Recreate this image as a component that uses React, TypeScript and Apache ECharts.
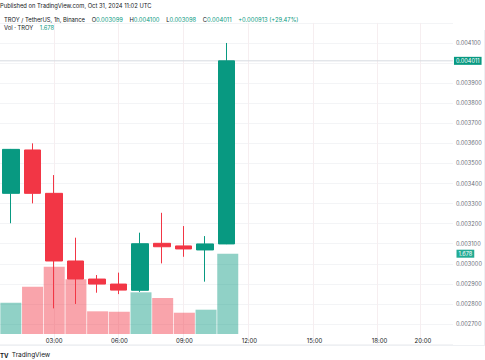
import React, { useEffect, useRef } from "react";
import * as echarts from "echarts";

const hours = ["01:00","02:00","03:00","04:00","05:00","06:00","07:00","08:00","09:00","10:00","11:00","12:00","13:00","14:00","15:00","16:00","17:00","18:00","19:00","20:00","21:00"];
const tickLabels = ["03:00","06:00","09:00","12:00","15:00","18:00","20:00"];
const openV = [0.003351,0.003567,0.003351,0.003014,0.002924,0.002899,0.002868,0.003102,0.003089,0.003069,0.003099];
const closeV = [0.003570,0.003351,0.003014,0.002924,0.002899,0.002869,0.003100,0.003085,0.003074,0.003099,0.004011];
const lowV = [0.003202,0.003301,0.002778,0.002800,0.002856,0.002849,0.002860,0.003002,0.003035,0.002911,0.003098];
const highV = [0.003572,0.003600,0.003442,0.003130,0.002944,0.002956,0.003155,0.003254,0.003188,0.003138,0.004100];
const volumeM = [0.654,0.989,1.406,1.143,0.474,0.466,0.871,0.752,0.445,0.508,1.678];
const hiddenPriceTicks = [0.004];
const lastPrice = 0.004011;
const lastVolume = 1.678;

const UP = "#089981";
const DOWN = "#f23645";
const UP_VOL = "rgba(8,153,129,0.45)";
const DOWN_VOL = "rgba(242,54,69,0.45)";
const FONT = "Inter, 'Noto Sans', sans-serif";

export default function App() {
  const ref = useRef<HTMLDivElement>(null);
  useEffect(() => {
    if (!ref.current) return;
    document.body.style.margin = "0";
    const chart = echarts.init(ref.current, null, { renderer: "svg" });
    const candleData = openV.map((o, i) => [o, closeV[i], lowV[i], highV[i]]);
    const volData = volumeM.map((v, i) => ({
      value: v,
      itemStyle: { color: closeV[i] >= openV[i] ? UP_VOL : DOWN_VOL },
    }));
    const lastLine = [[0, lastPrice], [1, lastPrice]];
    const gridL = -6.5;
    const gridR = 29.5;
    const labelInterval = (idx: number, val: string) => tickLabels.includes(val);
    const hiddenAxis = {
      axisLine: { show: false },
      axisTick: { show: false },
      splitLine: { show: false },
    };
    chart.setOption({
      animation: false,
      backgroundColor: "#ffffff",
      textStyle: { fontFamily: FONT },
      grid: [
        { left: gridL, right: gridR, top: 22.9, bottom: 15.9, containLabel: false },
        { left: gridL, right: gridR, top: 30, bottom: 26, containLabel: false },
      ],
      xAxis: [
        {
          type: "category",
          gridIndex: 0,
          data: hours,
          boundaryGap: true,
          axisLine: { show: false },
          axisTick: { show: false },
          axisLabel: { show: false },
          splitLine: {
            show: true,
            alignWithLabel: true,
            interval: (idx: number, val: string) => tickLabels.includes(val),
            lineStyle: { color: "#f6eef0", width: 1 },
          },
        },
        {
          type: "category",
          gridIndex: 1,
          data: hours,
          boundaryGap: true,
          axisLine: { show: false },
          axisTick: { show: false },
          splitLine: { show: false },
          axisLabel: {
            show: true,
            interval: labelInterval,
            color: "#131722",
            fontSize: 6,
            fontFamily: FONT,
            margin: 3,
          },
        },
        {
          type: "value",
          gridIndex: 0,
          min: 0,
          max: 1,
          show: false,
        },
      ],
      yAxis: [
        {
          type: "value",
          gridIndex: 0,
          position: "right",
          min: 0.0026,
          max: 0.0042,
          interval: 0.0001,
          axisLine: { show: false },
          axisTick: { show: false },
          splitLine: { show: true, lineStyle: { color: "#f3f4f6", width: 1 } },
          axisLabel: {
            show: true,
            showMinLabel: false,
            showMaxLabel: false,
            formatter: (v: number) =>
              hiddenPriceTicks.some((h) => Math.abs(h - v) < 1e-9) ? "" : v.toFixed(6),
            color: "#6a6d78",
            fontSize: 5.6,
            fontFamily: FONT,
            margin: 3,
          },
        },
        {
          type: "value",
          gridIndex: 1,
          position: "right",
          min: 0,
          max: 6.353,
          ...hiddenAxis,
          axisLabel: { show: false },
        },
        {
          type: "value",
          gridIndex: 0,
          position: "right",
          min: 0.0026,
          max: 0.0042,
          ...hiddenAxis,
          axisLabel: {
            show: true,
            customValues: [lastPrice],
            formatter: (v: number) => v.toFixed(6),
            color: "#ffffff",
            backgroundColor: UP,
            fontSize: 5.6,
            fontFamily: FONT,
            padding: [1, 2, 1, 2],
            margin: 1,
          },
        },
        {
          type: "value",
          gridIndex: 1,
          position: "right",
          min: 0,
          max: 6.353,
          ...hiddenAxis,
          axisLabel: {
            show: true,
            customValues: [lastVolume],
            formatter: (v: number) => v.toFixed(3),
            color: "#ffffff",
            backgroundColor: "#22ab94",
            fontSize: 5.6,
            fontFamily: FONT,
            padding: [1, 2, 1, 2],
            margin: 1,
          },
        },
      ],
      series: [
        {
          type: "bar",
          name: "Vol",
          xAxisIndex: 1,
          yAxisIndex: 1,
          data: volData,
          barWidth: 21,
          z: 1,
        },
        {
          type: "line",
          name: "last",
          xAxisIndex: 2,
          yAxisIndex: 0,
          data: lastLine,
          symbol: "none",
          silent: true,
          z: 2,
          lineStyle: { color: "#d6dae0", width: 1 },
        },
        {
          type: "candlestick",
          name: "TROY",
          xAxisIndex: 0,
          yAxisIndex: 0,
          data: candleData,
          barWidth: 17,
          z: 5,
          itemStyle: {
            color: UP,
            color0: DOWN,
            borderColor: UP,
            borderColor0: DOWN,
            borderWidth: 1,
          },
        },
      ],
      graphic: [
        {
          type: "text",
          left: 0,
          top: 2,
          style: {
            text: "Published on TradingView.com, Oct 31, 2024 11:02 UTC",
            fill: "#131722",
            fontSize: 5.8,
            fontFamily: FONT,
          },
        },
        {
          type: "text",
          left: 4,
          top: 13,
          style: {
            text:
              "{d|TROY / TetherUS, 1h, Binance}  {d|O}{g|0.003099}  {d|H}{g|0.004100}  {d|L}{g|0.003098}  {d|C}{g|0.004011}  {g|+0.000913 (+29.47%)}",
            rich: {
              d: { fill: "#131722", fontSize: 5.8, fontFamily: FONT },
              g: { fill: UP, fontSize: 5.8, fontFamily: FONT },
            },
          },
        },
        {
          type: "text",
          left: 4,
          top: 21,
          style: {
            text: "{d|Vol · TROY}  {g|1.678}",
            rich: {
              d: { fill: "#131722", fontSize: 5.8, fontFamily: FONT },
              g: { fill: UP, fontSize: 5.8, fontFamily: FONT },
            },
          },
        },
        {
          type: "rect",
          shape: { x: 0, y: 345, width: 485, height: 1 },
          style: { fill: "#eef0f3" },
        },
        {
          type: "rect",
          shape: { x: 484, y: 30, width: 1, height: 315 },
          style: { fill: "#eef0f3" },
        },
        {
          type: "text",
          left: 0,
          top: 349,
          style: {
            text: "{b|TV} {d|TradingView}",
            rich: {
              b: { fill: "#131722", fontSize: 6, fontWeight: "bold", fontFamily: FONT },
              d: { fill: "#131722", fontSize: 6.5, fontFamily: FONT },
            },
          },
        },
      ],
    });
    return () => chart.dispose();
  }, []);
  return <div ref={ref} style={{ width: 485, height: 360 }} />;
}
